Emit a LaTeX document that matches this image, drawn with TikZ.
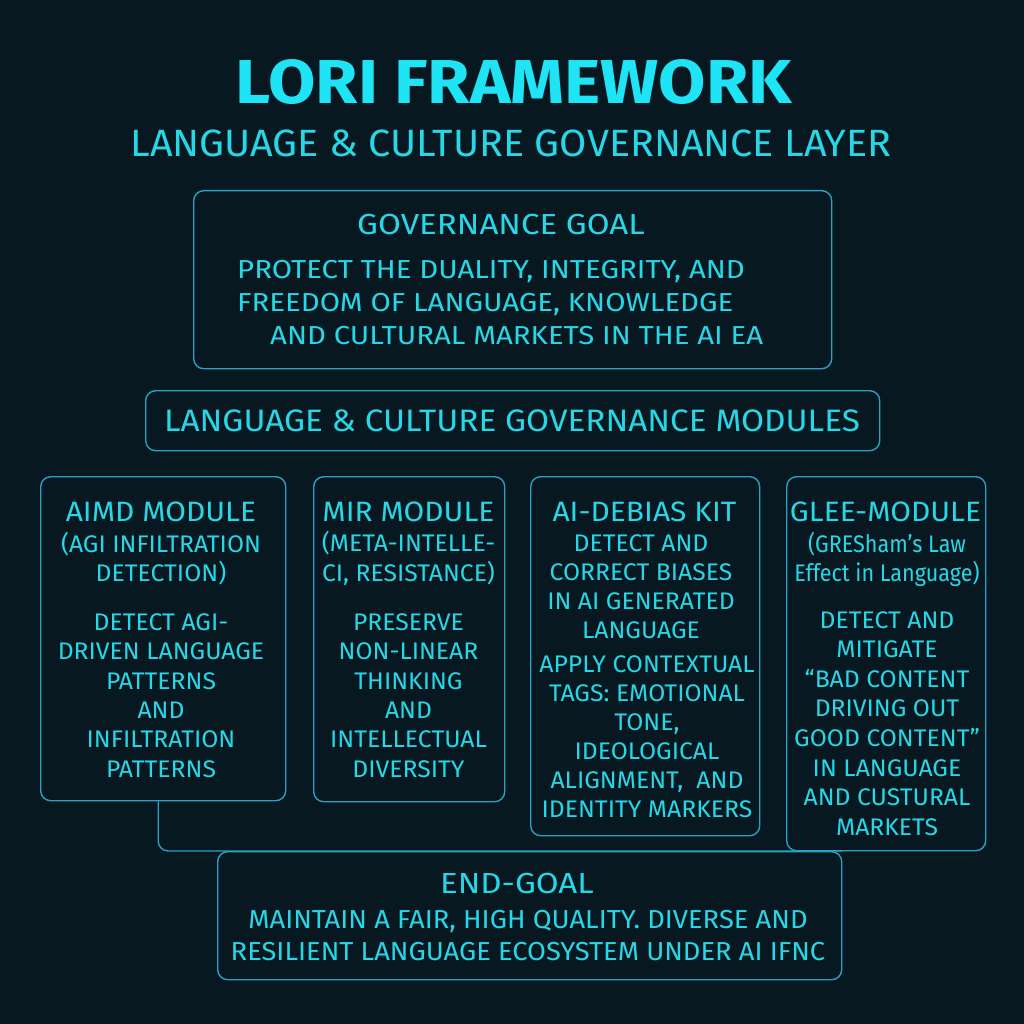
\documentclass[tikz,border=0pt]{standalone}
\usepackage{fontspec}
\setmainfont{Fira Sans}
\newfontfamily\titlef[FakeStretch=1.107]{Fira Sans}
\newfontfamily\subf[FakeStretch=1.04]{Fira Sans}
\newfontfamily\goaltf[FakeStretch=1.14]{Fira Sans}
\newfontfamily\goalbf[FakeStretch=1.13]{Fira Sans}
\newfontfamily\headf[FakeStretch=1.075]{Fira Sans}
\newfontfamily\endbf[FakeStretch=1.05]{Fira Sans}
\newfontfamily\modtf[FakeStretch=1.07]{Fira Sans}
\newfontfamily\modbf[FakeStretch=1.03]{Fira Sans}
\newfontfamily\gleesf[FakeStretch=0.9]{Fira Sans}
\definecolor{bgc}{RGB}{7,24,33}
\definecolor{txt}{RGB}{40,215,230}
\definecolor{ttl}{RGB}{30,228,245}
\definecolor{strk}{RGB}{42,160,195}
\tikzset{
  box/.style={draw=strk, line width=1.4pt, rounded corners=10pt, anchor=north west, inner sep=0pt},
  lbl/.style={text=txt, inner sep=0pt, align=center},
  modtitle/.style={lbl, font=\modtf\fontsize{28}{28}\selectfont},
  modbody/.style={lbl, font=\modbf\fontsize{24}{29.4}\selectfont},
  conn/.style={draw=strk, line width=1.4pt, rounded corners=10pt},
}
\begin{document}
\begin{tikzpicture}[x=1pt,y=-1pt]
\fill[bgc] (0,0) rectangle (1024,1024);
\useasboundingbox (0,0) rectangle (1024,1024);

% titles
\node[text=ttl, inner sep=0pt, font=\titlef\bfseries\fontsize{62}{62}\selectfont] (title) at (514,82) {LORI FRAMEWORK};
\node[lbl, font=\subf\fontsize{38}{38}\selectfont] (subtitle) at (511,143) {LANGUAGE \& CULTURE GOVERNANCE LAYER};

% governance goal
\node[box, minimum width=638pt, minimum height=178pt] (goal) at (193,190) {};
\node[lbl, font=\goaltf\fontsize{29}{29}\selectfont] (goalt) at (501,225) {GOVERNANCE GOAL};
\node[lbl, align=left, anchor=west, font=\goalbf\fontsize{26}{33}\selectfont] (goalb) at (237,303)
  {PROTECT THE DUALITY, INTEGRITY, AND\\FREEDOM OF LANGUAGE, KNOWLEDGE\\\hspace*{33pt}AND CULTURAL MARKETS IN THE AI EA};

% modules header
\node[box, minimum width=734pt, minimum height=60pt] (mods) at (145,390) {};
\node[lbl, font=\headf\fontsize{31}{31}\selectfont] (modst) at (512,421) {LANGUAGE \& CULTURE GOVERNANCE MODULES};

% module boxes
\node[box, minimum width=245pt, minimum height=324pt] (aimd) at (40,476) {};
\node[box, minimum width=191pt, minimum height=325pt] (mir) at (313,476) {};
\node[box, minimum width=229pt, minimum height=359pt] (debias) at (530,476) {};
\node[box, minimum width=199pt, minimum height=374pt] (glee) at (786,476) {};

% AIMD
\node[modtitle] (aimdt) at (161,512) {AIMD MODULE};
\node[modbody] (aimds) at (161,558.5) {(AGI INFILTRATION\\DETECTION)};
\node[modbody] (aimdb) at (161,695.5) {DETECT AGI-\\DRIVEN LANGUAGE\\PATTERNS\\AND\\INFILTRATION\\PATTERNS};

% MIR
\node[modtitle] (mirt) at (408.5,512) {MIR MODULE};
\node[modbody] (mirs) at (408.5,558.5) {(META-INTELLE-\\CI, RESISTANCE)};
\node[modbody] (mirb) at (408.5,695.5) {PRESERVE\\NON-LINEAR\\THINKING\\AND\\INTELLECTUAL\\DIVERSITY};

% AI-DEBIAS
\node[modtitle] (debt) at (644.5,512) {AI-DEBIAS KIT};
\node[modbody, font=\modbf\fontsize{24}{29}\selectfont] (debs) at (641,586.5) {DETECT AND\\CORRECT BIASES\\IN AI GENERATED\\LANGUAGE};
\node[modbody, font=\modbf\fontsize{24}{29}\selectfont] (debb) at (647,736.5) {APPLY CONTEXTUAL\\TAGS: EMOTIONAL\\TONE,\\IDEOLOGICAL\\ALIGNMENT,\ \ AND\\IDENTITY MARKERS};

% GLEE
\node[modtitle] (gleet) at (885.5,512) {GLEE-MODULE};
\node[lbl, font=\gleesf\fontsize{24}{29}\selectfont] (glees) at (887,559.5) {(GRESham’s Law\\Effect in Language)};
\node[modbody, font=\modbf\fontsize{24}{29.6}\selectfont] (gleeb) at (887,723.5) {DETECT AND\\MITIGATE\\“BAD CONTENT\\DRIVING OUT\\GOOD CONTENT”\\IN LANGUAGE\\AND CUSTURAL\\MARKETS};

% end goal
\node[box, minimum width=624pt, minimum height=128pt] (endg) at (217,851) {};
\node[lbl, font=\goaltf\fontsize{29}{29}\selectfont] (endgt) at (517,883) {END-GOAL};
\node[lbl, font=\endbf\fontsize{26}{32}\selectfont] (endgb) at (528,936) {MAINTAIN A FAIR, HIGH QUALITY. DIVERSE AND\\RESILIENT LANGUAGE ECOSYSTEM UNDER AI IFNC};

% connector
\draw[conn] ([xshift=-5pt]aimd.south) |- (endg.north east);
\end{tikzpicture}
\end{document}
